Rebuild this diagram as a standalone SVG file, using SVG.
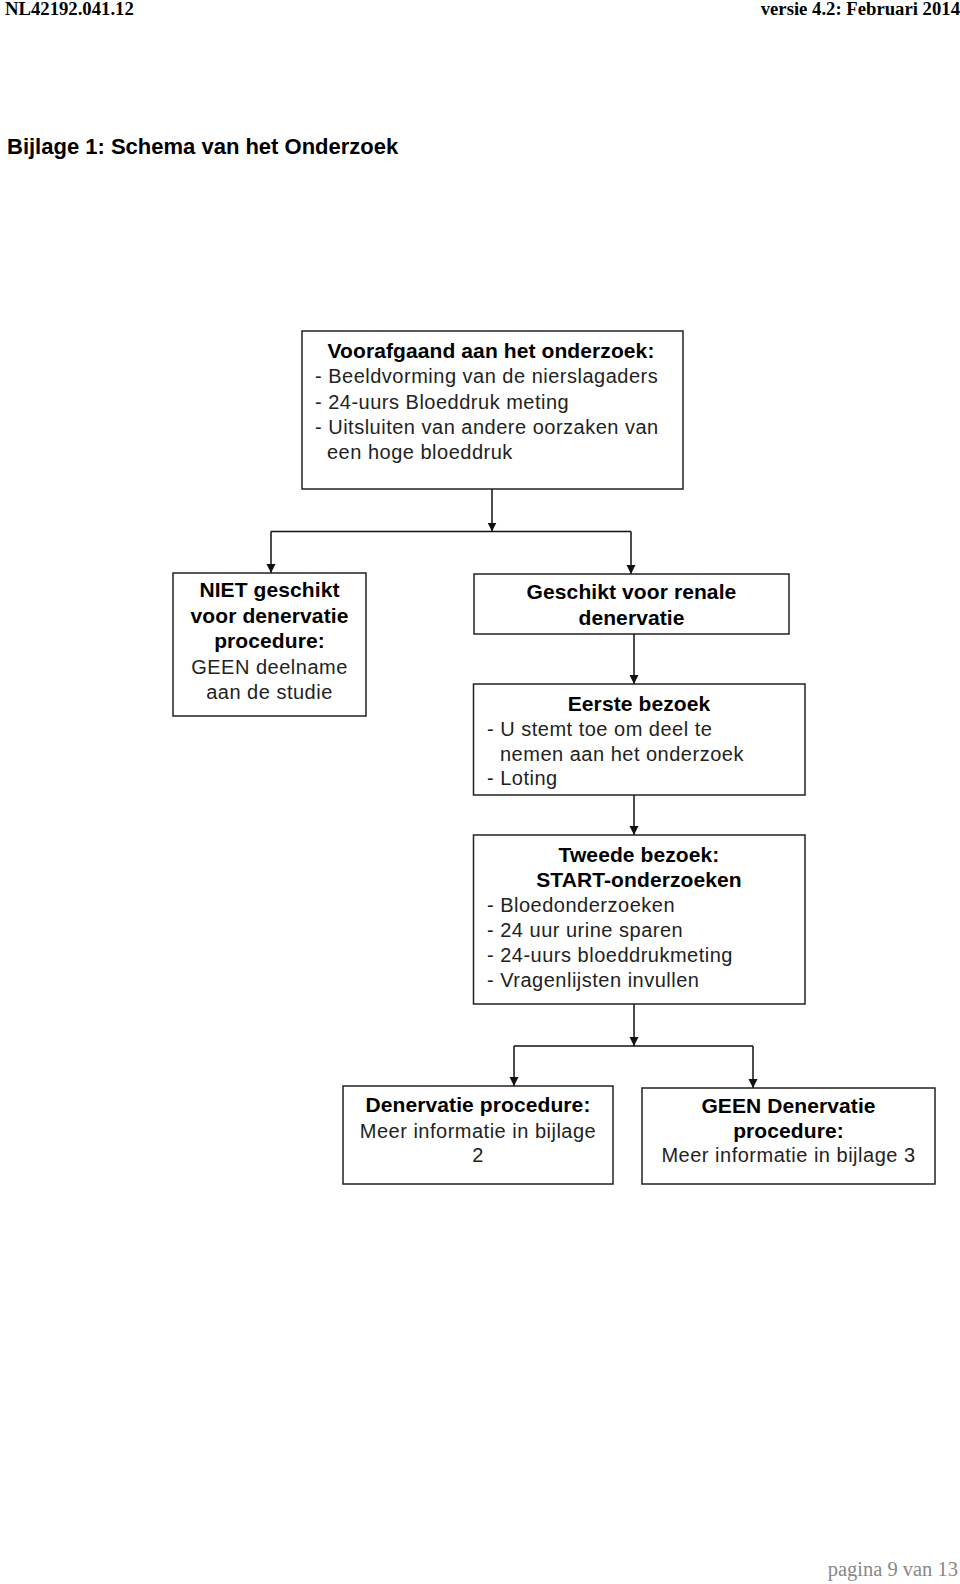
<svg xmlns="http://www.w3.org/2000/svg" width="960" height="1584" viewBox="0 0 960 1584">
<style>
.box{fill:#fff;stroke:#222;stroke-width:1.5}
.b{font-family:"Liberation Sans",Arial,sans-serif;font-weight:bold;font-size:21px;fill:#000;letter-spacing:0.1px}
.r{font-family:"Liberation Sans",Arial,sans-serif;font-size:20px;fill:#222;letter-spacing:0.5px}
.c{text-anchor:middle}
.hdr{font-family:"Liberation Serif","Times New Roman",serif;font-weight:bold;font-size:18.7px;fill:#000}
.ttl{font-family:"Liberation Sans",Arial,sans-serif;font-weight:bold;font-size:22px;fill:#000}
.ftr{font-family:"Liberation Serif","Times New Roman",serif;font-size:20.5px;fill:#888}
.ln{fill:none;stroke:#111;stroke-width:1.5}
</style>
<defs>
<marker id="ah" viewBox="0 0 10 10" refX="10" refY="5" markerWidth="9" markerHeight="10" markerUnits="userSpaceOnUse" orient="auto">
<path d="M0,0 L10,5 L0,10 z" fill="#111"/>
</marker>
</defs>
<rect width="960" height="1584" fill="#fff"/>
<text class="hdr" x="5" y="15">NL42192.041.12</text>
<text class="hdr" x="960" y="15" text-anchor="end">versie 4.2: Februari 2014</text>
<text class="ttl" x="7" y="154">Bijlage 1: Schema van het Onderzoek</text>
<text class="ftr" x="958" y="1576" text-anchor="end">pagina 9 van 13</text>

<g id="connectors">
<line class="ln" x1="492" y1="489" x2="492" y2="531.5" marker-end="url(#ah)"/>
<line class="ln" x1="271" y1="531.5" x2="631" y2="531.5"/>
<line class="ln" x1="271" y1="531.5" x2="271" y2="573" marker-end="url(#ah)"/>
<line class="ln" x1="631" y1="531.5" x2="631" y2="574" marker-end="url(#ah)"/>
<line class="ln" x1="634" y1="634" x2="634" y2="684" marker-end="url(#ah)"/>
<line class="ln" x1="634" y1="795" x2="634" y2="835" marker-end="url(#ah)"/>
<line class="ln" x1="634" y1="1004" x2="634" y2="1046" marker-end="url(#ah)"/>
<line class="ln" x1="514" y1="1046" x2="753" y2="1046"/>
<line class="ln" x1="514" y1="1046" x2="514" y2="1086" marker-end="url(#ah)"/>
<line class="ln" x1="753" y1="1046" x2="753" y2="1088" marker-end="url(#ah)"/>
</g>

<g id="voorafgaand">
<rect class="box" x="302" y="331" width="381" height="158"/>
<text class="b c" x="491" y="358">Voorafgaand aan het onderzoek:</text>
<text class="r" x="315" y="383">- Beeldvorming van de nierslagaders</text>
<text class="r" x="315" y="409">- 24-uurs Bloeddruk meting</text>
<text class="r" x="315" y="434">- Uitsluiten van andere oorzaken van</text>
<text class="r" x="327" y="459">een hoge bloeddruk</text>
</g>

<g id="niet-geschikt">
<rect class="box" x="173" y="573" width="193" height="143"/>
<text class="b c" x="269.5" y="597">NIET geschikt</text>
<text class="b c" x="269.5" y="623">voor denervatie</text>
<text class="b c" x="269.5" y="648">procedure:</text>
<text class="r c" x="269.5" y="674">GEEN deelname</text>
<text class="r c" x="269.5" y="699">aan de studie</text>
</g>

<g id="geschikt">
<rect class="box" x="474" y="574" width="315" height="60"/>
<text class="b c" x="631.5" y="599">Geschikt voor renale</text>
<text class="b c" x="631.5" y="625">denervatie</text>
</g>

<g id="eerste-bezoek">
<rect class="box" x="473.5" y="684" width="331.5" height="111"/>
<text class="b c" x="639" y="711">Eerste bezoek</text>
<text class="r" x="487" y="736">- U stemt toe om deel te</text>
<text class="r" x="500" y="761">nemen aan het onderzoek</text>
<text class="r" x="487" y="785">- Loting</text>
</g>

<g id="tweede-bezoek">
<rect class="box" x="473.5" y="835" width="331.5" height="169"/>
<text class="b c" x="639" y="862">Tweede bezoek:</text>
<text class="b c" x="639" y="887">START-onderzoeken</text>
<text class="r" x="487" y="912">- Bloedonderzoeken</text>
<text class="r" x="487" y="937">- 24 uur urine sparen</text>
<text class="r" x="487" y="962">- 24-uurs bloeddrukmeting</text>
<text class="r" x="487" y="987">- Vragenlijsten invullen</text>
</g>

<g id="denervatie">
<rect class="box" x="343" y="1086" width="270" height="98"/>
<text class="b c" x="478" y="1112">Denervatie procedure:</text>
<text class="r c" x="478" y="1138">Meer informatie in bijlage</text>
<text class="r c" x="478" y="1162">2</text>
</g>

<g id="geen-denervatie">
<rect class="box" x="642" y="1088" width="293" height="96"/>
<text class="b c" x="788.5" y="1113">GEEN Denervatie</text>
<text class="b c" x="788.5" y="1138">procedure:</text>
<text class="r c" x="788.5" y="1162">Meer informatie in bijlage 3</text>
</g>
</svg>
